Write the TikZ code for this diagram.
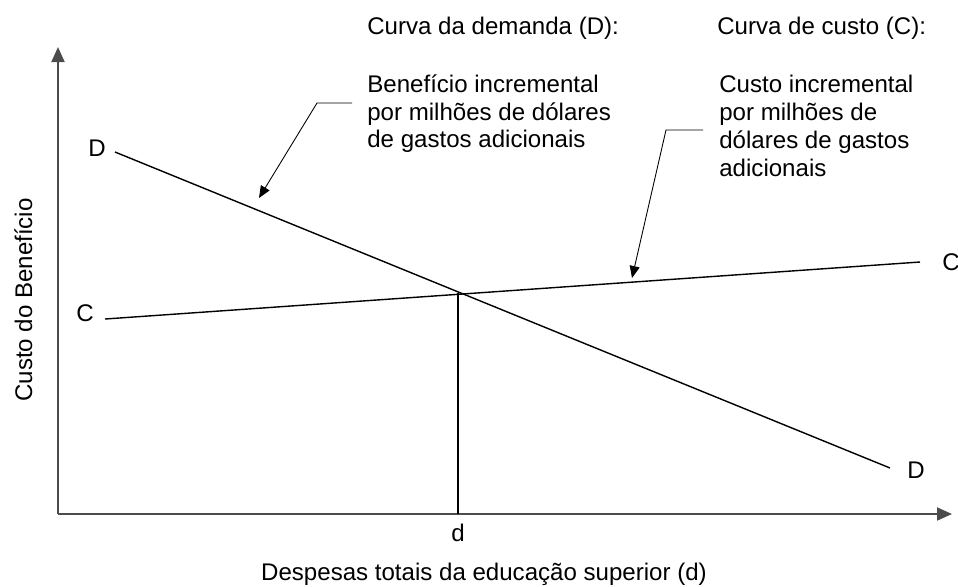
\documentclass[tikz,border=0pt]{standalone}
\usepackage{fontspec}
\setmainfont{Liberation Sans}
\usetikzlibrary{arrows.meta}
\begin{document}
\begin{tikzpicture}[
    x=0.2mm, y=-0.2mm,
    font=\fontsize{13.7}{15.9}\selectfont,
    axis/.style={draw=black!70, line width=1.1pt, -{Triangle[length=3mm,width=2.6mm]}},
    curve/.style={draw=black, line width=0.8pt},
    callout/.style={draw=black, line width=0.5pt, -{Triangle[length=2.4mm,width=2mm]}},
    lbl/.style={inner sep=0pt},
    note/.style={lbl, align=left, anchor=north west}
]
\useasboundingbox (0,0) rectangle (958,586);

% Axes
\coordinate (origin) at (58,514);
\coordinate (ytip) at (58,47);
\coordinate (xtip) at (952,514);
\draw[axis] (origin) -- (ytip);
\draw[axis] (origin) -- (xtip);
\node[lbl, rotate=90, anchor=base] (ylabel) at (32,300) {Custo do Benefício};
\node[lbl, anchor=base] (xlabel) at (484,580) {Despesas totais da educação superior (d)};

% Demand and cost curves
\coordinate (Dstart) at (115,152);
\coordinate (Dend) at (890,468);
\coordinate (Cstart) at (105,319);
\coordinate (Cend) at (920,262);
\draw[curve] (Dstart) -- (Dend);
\draw[curve] (Cstart) -- (Cend);
\node[lbl] (Dtop) at (97,148) {D};
\node[lbl] (Dbottom) at (916,470) {D};
\node[lbl] (Cleft) at (85,313) {C};
\node[lbl] (Cright) at (951,262) {C};

% Equilibrium
\coordinate (eq) at (458,293);
\coordinate (dtick) at (458,514);
\draw[curve] (eq) -- (dtick);
\node[lbl] (dlabel) at (458,533) {d};

% Headings and notes
\node[lbl, anchor=base west] (demandtitle) at (367,34) {Curva da demanda (D):};
\node[lbl, anchor=base west] (costtitle) at (717,34) {Curva de custo (C):};
\node[note] (demandnote) at (367,74) {Benefício incremental\\por milhões de dólares\\de gastos adicionais};
\node[note] (costnote) at (719,75) {Custo incremental\\por milhões de\\dólares de gastos\\adicionais};

% Callouts
\coordinate (demandfoot) at (352,103);
\coordinate (demandbend) at (317,103);
\coordinate (demandtip) at (259,198);
\coordinate (costfoot) at (703,130);
\coordinate (costbend) at (666,130);
\coordinate (costtip) at (632,278);
\draw[callout] (demandfoot) -- (demandbend) -- (demandtip);
\draw[callout] (costfoot) -- (costbend) -- (costtip);

\end{tikzpicture}
\end{document}
